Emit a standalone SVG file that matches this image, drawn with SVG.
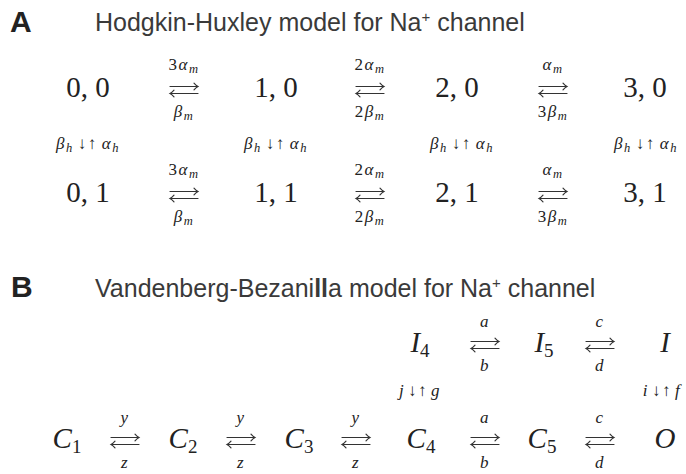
<svg xmlns="http://www.w3.org/2000/svg" width="686" height="474" viewBox="0 0 686 474">
<style>
.hd{font-family:"Liberation Sans",Arial,sans-serif;font-weight:bold;font-size:30px;fill:#222}
.tt{font-family:"Liberation Sans",Arial,sans-serif;font-size:25px;fill:#3a3a3a}
.m{font-family:"Liberation Serif","DejaVu Serif",serif;fill:#222}
.nd{font-size:29px}
.lb{font-size:17px;letter-spacing:1.5px}
.i{font-style:italic}
.sb{font-size:12.5px}
.sb2{font-size:19px}
.ar{fill:none;stroke:#333;stroke-width:1.2;stroke-linecap:round}
</style>
<defs>
<g id="rl" class="ar">
<path d="M-14,-3.5 H14 M10,-6.8 Q12,-4.5 14,-3.5 Q12,-2.5 10,-0.2"/>
<path d="M14,3.5 H-14 M-10,0.2 Q-12,2.5 -14,3.5 Q-12,4.5 -10,6.8"/>
</g>
</defs>
<rect width="686" height="474" fill="#fff"/>

<text class="hd" x="10" y="32">A</text>
<text class="tt" x="95" y="31">Hodgkin-Huxley model for Na<tspan font-size="15" dy="-9">+</tspan><tspan dy="9"> channel</tspan></text>
<text class="hd" x="11" y="297">B</text>
<text class="tt" x="95" y="297">Vandenberg-Bezani<tspan font-weight="bold">ll</tspan>a model for Na<tspan font-size="15" dy="-9">+</tspan><tspan dy="9"> channel</tspan></text>

<!-- Panel A nodes -->
<g id="n00"><text class="m nd" x="88" y="97" text-anchor="middle">0, 0</text></g>
<g id="n10"><text class="m nd" x="276" y="97" text-anchor="middle">1, 0</text></g>
<g id="n20"><text class="m nd" x="457" y="97" text-anchor="middle">2, 0</text></g>
<g id="n30"><text class="m nd" x="645" y="97" text-anchor="middle">3, 0</text></g>
<g id="n01"><text class="m nd" x="88" y="202" text-anchor="middle">0, 1</text></g>
<g id="n11"><text class="m nd" x="276" y="202" text-anchor="middle">1, 1</text></g>
<g id="n21"><text class="m nd" x="457" y="202" text-anchor="middle">2, 1</text></g>
<g id="n31"><text class="m nd" x="645" y="202" text-anchor="middle">3, 1</text></g>

<!-- Panel B nodes -->
<g id="I4"><text class="m nd" x="420" y="352" text-anchor="middle"><tspan class="i">I</tspan><tspan class="sb2" dy="5">4</tspan></text></g>
<g id="I5"><text class="m nd" x="544" y="352" text-anchor="middle"><tspan class="i">I</tspan><tspan class="sb2" dy="5">5</tspan></text></g>
<g id="I"><text class="m nd i" x="665" y="352" text-anchor="middle">I</text></g>
<g id="C1"><text class="m nd" x="67" y="448" text-anchor="middle"><tspan class="i">C</tspan><tspan class="sb2" dy="5">1</tspan></text></g>
<g id="C2"><text class="m nd" x="183" y="448" text-anchor="middle"><tspan class="i">C</tspan><tspan class="sb2" dy="5">2</tspan></text></g>
<g id="C3"><text class="m nd" x="299" y="448" text-anchor="middle"><tspan class="i">C</tspan><tspan class="sb2" dy="5">3</tspan></text></g>
<g id="C4"><text class="m nd" x="421" y="448" text-anchor="middle"><tspan class="i">C</tspan><tspan class="sb2" dy="5">4</tspan></text></g>
<g id="C5"><text class="m nd" x="542" y="448" text-anchor="middle"><tspan class="i">C</tspan><tspan class="sb2" dy="5">5</tspan></text></g>
<g id="O"><text class="m nd i" x="665" y="448" text-anchor="middle">O</text></g>

<g id="connectors">
<!-- Panel A row 1 -->
<use href="#rl" x="184" y="90"/>
<use href="#rl" x="370" y="90"/>
<use href="#rl" x="553" y="90"/>
<!-- Panel A row 2 -->
<use href="#rl" x="184" y="195"/>
<use href="#rl" x="370" y="195"/>
<use href="#rl" x="553" y="195"/>
<!-- Panel B row I -->
<use href="#rl" x="485" y="345"/>
<use href="#rl" x="600" y="345"/>
<!-- Panel B row C -->
<use href="#rl" x="125" y="441"/>
<use href="#rl" x="241" y="441"/>
<use href="#rl" x="356" y="441"/>
<use href="#rl" x="485" y="441"/>
<use href="#rl" x="600" y="441"/>

<g class="m lb" text-anchor="middle">
<text x="184" y="70">3<tspan class="i">α</tspan><tspan class="i sb" dy="3">m</tspan></text>
<text x="184" y="117"><tspan class="i">β</tspan><tspan class="i sb" dy="3">m</tspan></text>
<text x="370" y="70">2<tspan class="i">α</tspan><tspan class="i sb" dy="3">m</tspan></text>
<text x="370" y="117">2<tspan class="i">β</tspan><tspan class="i sb" dy="3">m</tspan></text>
<text x="553" y="70"><tspan class="i">α</tspan><tspan class="i sb" dy="3">m</tspan></text>
<text x="553" y="117">3<tspan class="i">β</tspan><tspan class="i sb" dy="3">m</tspan></text>

<text x="184" y="175">3<tspan class="i">α</tspan><tspan class="i sb" dy="3">m</tspan></text>
<text x="184" y="222"><tspan class="i">β</tspan><tspan class="i sb" dy="3">m</tspan></text>
<text x="370" y="175">2<tspan class="i">α</tspan><tspan class="i sb" dy="3">m</tspan></text>
<text x="370" y="222">2<tspan class="i">β</tspan><tspan class="i sb" dy="3">m</tspan></text>
<text x="553" y="175"><tspan class="i">α</tspan><tspan class="i sb" dy="3">m</tspan></text>
<text x="553" y="222">3<tspan class="i">β</tspan><tspan class="i sb" dy="3">m</tspan></text>

<text x="88" y="149"><tspan class="i">β</tspan><tspan class="i sb" dy="2.5">h</tspan><tspan dx="4" dy="-2.5">↓↑</tspan><tspan class="i" dx="4">α</tspan><tspan class="i sb" dy="2.5">h</tspan></text>
<text x="276" y="149"><tspan class="i">β</tspan><tspan class="i sb" dy="2.5">h</tspan><tspan dx="4" dy="-2.5">↓↑</tspan><tspan class="i" dx="4">α</tspan><tspan class="i sb" dy="2.5">h</tspan></text>
<text x="462" y="149"><tspan class="i">β</tspan><tspan class="i sb" dy="2.5">h</tspan><tspan dx="4" dy="-2.5">↓↑</tspan><tspan class="i" dx="4">α</tspan><tspan class="i sb" dy="2.5">h</tspan></text>
<text x="646" y="149"><tspan class="i">β</tspan><tspan class="i sb" dy="2.5">h</tspan><tspan dx="4" dy="-2.5">↓↑</tspan><tspan class="i" dx="4">α</tspan><tspan class="i sb" dy="2.5">h</tspan></text>

<text class="i" x="485" y="327">a</text>
<text class="i" x="485" y="371">b</text>
<text class="i" x="600" y="327">c</text>
<text class="i" x="600" y="371">d</text>

<text class="i" x="125" y="423">y</text>
<text class="i" x="125" y="468">z</text>
<text class="i" x="241" y="423">y</text>
<text class="i" x="241" y="468">z</text>
<text class="i" x="356" y="423">y</text>
<text class="i" x="356" y="468">z</text>
<text class="i" x="485" y="423">a</text>
<text class="i" x="485" y="468">b</text>
<text class="i" x="600" y="423">c</text>
<text class="i" x="600" y="468">d</text>

<text x="420" y="396"><tspan class="i">j</tspan><tspan dx="3">↓↑</tspan><tspan class="i" dx="3">g</tspan></text>
<text x="662" y="396"><tspan class="i">i</tspan><tspan dx="3">↓↑</tspan><tspan class="i" dx="3">f</tspan></text>
</g>
</g>
</svg>
